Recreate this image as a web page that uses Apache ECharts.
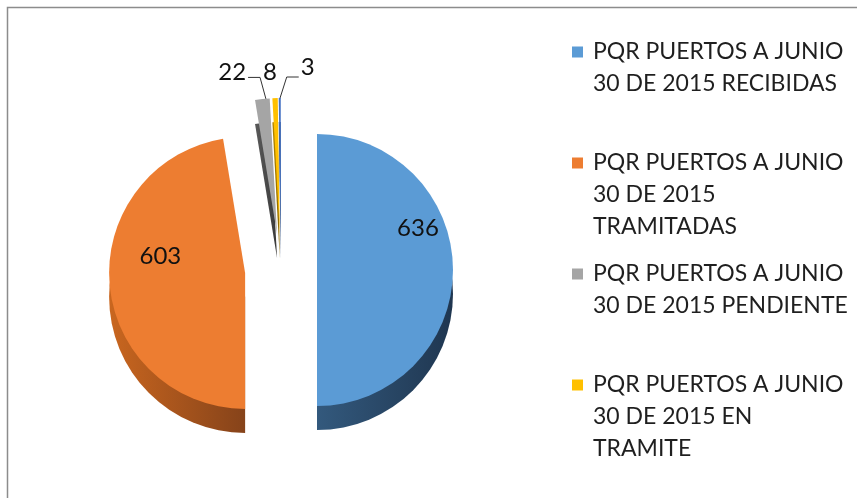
<!DOCTYPE html>
<html>
<head>
<meta charset="utf-8">
<script src="https://cdn.jsdelivr.net/npm/echarts@6/dist/echarts.min.js"></script>
<style>
  html, body { margin: 0; padding: 0; background: #fff; }
  #chart { width: 857px; height: 498px; }
</style>
</head>
<body>
<div id="chart"></div>
<script>
// datos del grafico
var nombres = [
    'PQR PUERTOS A JUNIO 30 DE 2015 RECIBIDAS',
    'PQR PUERTOS A JUNIO 30 DE 2015 TRAMITADAS',
    'PQR PUERTOS A JUNIO 30 DE 2015 PENDIENTE',
    'PQR PUERTOS A JUNIO 30 DE 2015 EN TRAMITE',
    'PQR PUERTOS A JUNIO 30 DE 2015 OTRAS'
];
var valores = [636, 603, 22, 8, 3];
// lineas de la leyenda (como en el original, solo 4 entradas)
var lineasLeyenda = [
    ['PQR PUERTOS A JUNIO', '30 DE 2015 RECIBIDAS'],
    ['PQR PUERTOS A JUNIO', '30 DE 2015', 'TRAMITADAS'],
    ['PQR PUERTOS A JUNIO', '30 DE 2015 PENDIENTE'],
    ['PQR PUERTOS A JUNIO', '30 DE 2015 EN', 'TRAMITE']
];

var colores = ['#5B9BD5', '#ED7D31', '#A5A5A5', '#FFC000', '#4472C4'];
// lado del "3D": claro a la izquierda, oscuro a la derecha
var coloresLado = [
    ['#33597d', '#1f3650'],
    ['#c9661f', '#86431a'],
    ['#5a5a5a', '#3a3a3a'],
    ['#b38600', '#8a6700'],
    ['#2f538f', '#22406e']
];

var fuente = 'Lato, "Noto Sans", sans-serif';
var CX = 281, CY = 270, R = 136, OFF = 36, PROF = 24;

var chart = echarts.init(document.getElementById('chart'));

var dataTapa = [], dataLado = [];
for (var i = 0; i < valores.length; i++) {
    var dentro = valores[i] > 100;
    dataTapa.push({
        name: nombres[i],
        value: valores[i],
        selected: true,
        itemStyle: { color: colores[i] },
        label: { position: dentro ? 'inside' : 'outside' },
        labelLine: { show: !dentro && i != 3 }
    });
    dataLado.push({
        name: nombres[i],
        value: valores[i],
        selected: true,
        itemStyle: {
            color: new echarts.graphic.LinearGradient(0, 0, 1, 0, [
                { offset: 0, color: coloresLado[i][0] },
                { offset: 1, color: coloresLado[i][1] }
            ])
        }
    });
}

var rich = {
    t: { fontFamily: fuente, fontSize: 23, color: '#1f1f1f', lineHeight: 32 },
    ind: { width: 21, height: 11 },
    gap: { width: 10, height: 11 }
};
for (var k = 0; k < 4; k++) {
    rich['sq' + k] = { width: 11, height: 11, backgroundColor: colores[k] };
}

var option = {
    backgroundColor: '#fff',
    animation: false,
    graphic: [{
        type: 'polyline',
        shape: { points: [[7.5, 498], [7.5, 7.5], [857, 7.5]] },
        style: { stroke: '#8c8c8c', lineWidth: 1.5, fill: null }
    }],
    legend: {
        orient: 'vertical',
        left: 567,
        top: 36,
        padding: 0,
        itemGap: 15,
        icon: 'none',
        itemWidth: 0,
        itemHeight: 10,
        selectedMode: false,
        data: nombres.slice(0, 4),
        formatter: function (name) {
            var idx = nombres.indexOf(name);
            var ls = lineasLeyenda[idx];
            var out = [];
            for (var j = 0; j < 3; j++) {
                if (j === 0) out.push('{sq' + idx + '| }{gap| }{t|' + ls[0] + '}');
                else if (ls[j]) out.push('{ind| }{t|' + ls[j] + '}');
                else out.push('{t| }');
            }
            return out.join('\n');
        },
        textStyle: { rich: rich, lineHeight: 32 }
    },
    series: [{
        // cara lateral (profundidad)
        type: 'pie',
        silent: true,
        z: 1,
        center: [CX, CY + PROF],
        radius: [0, R],
        startAngle: 90,
        clockwise: true,
        selectedMode: 'multiple',
        selectedOffset: OFF,
        label: { show: false },
        labelLine: { show: false },
        emphasis: { disabled: true },
        data: dataLado
    }, {
        type: 'pie',
        z: 2,
        center: [CX, CY],
        radius: [0, R],
        startAngle: 90,
        clockwise: true,
        selectedMode: 'multiple',
        selectedOffset: OFF,
        avoidLabelOverlap: false,
        label: {
            show: true,
            formatter: '{c}',
            fontFamily: fuente,
            fontSize: 24,
            color: '#111'
        },
        labelLine: {
            show: true,
            length: 18,
            length2: 14,
            lineStyle: { color: '#333', width: 1 }
        },
        labelLayout: function (p) {
            var i = p.dataIndex;
            if (i === 0) return { dx: 30, dy: -42 };
            if (i === 1) return { dx: -14, dy: -22 };
            // punta superior de la porcion pequena
            var tx = p.rect.x + p.rect.width / 2, ty = p.rect.y + 1;
            var lr = p.labelRect;
            var cy0 = lr.y + lr.height / 2;
            if (i === 2) {
                return {
                    dx: (tx - 20 - lr.width) - lr.x,
                    dy: (ty - 27) - cy0,
                    labelLinePoints: [[tx, ty], [tx - 6, ty - 22], [tx - 18, ty - 22]]
                };
            }
            if (i === 3) {
                return { dx: (tx - 6 - lr.width / 2) - lr.x, dy: (ty - 27) - cy0 };
            }
            return {
                dx: (tx + 21) - lr.x,
                dy: (ty - 32) - cy0,
                labelLinePoints: [[tx, ty], [tx + 7, ty - 22], [tx + 19, ty - 22]]
            };
        },
        emphasis: { disabled: true },
        data: dataTapa
    }]
};

chart.setOption(option);
</script>
</body>
</html>
